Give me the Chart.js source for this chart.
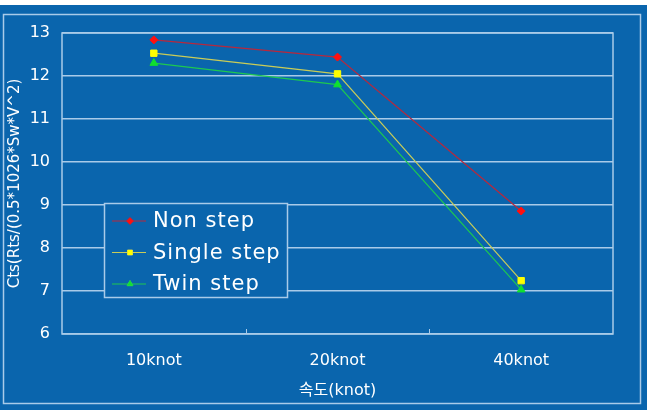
<!DOCTYPE html>
<html lang="ko">
<head>
    <meta charset="UTF-8">
    <title>Cts vs speed</title>
    <script src="https://cdn.jsdelivr.net/npm/chart.js"></script>
    <style>
        body { margin: 0; background: #ffffff; }
        canvas { display: block; }
    </style>
</head>
<body>
    <canvas id="ctsChart" width="653" height="417"></canvas>

    <script>
        // data
        const speeds = ["10knot", "20knot", "40knot"];
        const nonStep = [12.84, 12.44, 8.86];
        const singleStep = [12.53, 12.05, 7.24];
        const twinStep = [12.30, 11.80, 7.03];

        const BLUE = "#0a65ad";
        const PALE = "#a9cbe9";
        const FONT = "'DejaVu Sans', 'Noto Sans CJK KR', sans-serif";

        // blue frame behind the whole chart
        const framePlugin = {
            id: "frame",
            beforeDraw(chart) {
                const ctx = chart.ctx;
                ctx.save();
                ctx.fillStyle = "#ffffff";
                ctx.fillRect(0, 0, chart.width, chart.height);
                ctx.fillStyle = BLUE;
                ctx.fillRect(0, 5, 647, 405);
                ctx.strokeStyle = PALE;
                ctx.lineWidth = 1.5;
                ctx.strokeRect(3.5, 14.5, 637, 389);
                ctx.restore();
            },
            beforeDatasetsDraw(chart) {
                const ctx = chart.ctx;
                const a = chart.chartArea;
                const x = chart.scales.x;
                ctx.save();
                ctx.strokeStyle = PALE;
                ctx.lineWidth = 1.5;
                ctx.strokeRect(a.left, a.top, a.right - a.left, a.bottom - a.top);
                // small ticks between categories
                ctx.lineWidth = 1;
                for (let i = 0; i < speeds.length - 1; i++) {
                    const px = Math.round((x.getPixelForValue(i) + x.getPixelForValue(i + 1)) / 2) + 0.5;
                    ctx.beginPath();
                    ctx.moveTo(px, a.bottom);
                    ctx.lineTo(px, a.bottom - 5);
                    ctx.stroke();
                }
                ctx.restore();
            }
        };

        // legend box drawn inside the plot
        const boxLegend = {
            id: "boxLegend",
            afterDatasetsDraw(chart) {
                const ctx = chart.ctx;
                const a = chart.chartArea;
                const left = a.left + 42, top = a.top + 170;
                const w = 183, h = 94;
                ctx.save();
                ctx.fillStyle = BLUE;
                ctx.fillRect(left, top, w, h);
                ctx.strokeStyle = PALE;
                ctx.lineWidth = 1.5;
                ctx.strokeRect(left + 0.5, top + 0.5, w, h);
                ctx.font = "21px " + FONT;
                ctx.letterSpacing = "1px";
                ctx.textBaseline = "middle";
                chart.data.datasets.forEach((ds, i) => {
                    const y = top + 18 + i * 31.5;
                    ctx.strokeStyle = ds.borderColor;
                    ctx.lineWidth = 1;
                    ctx.beginPath();
                    ctx.moveTo(left + 8, y);
                    ctx.lineTo(left + 42, y);
                    ctx.stroke();
                    Chart.helpers.drawPoint(ctx, {
                        pointStyle: ds.pointStyle,
                        radius: 3.5,
                        borderWidth: 1
                    }, left + 26, y);
                    ctx.fillStyle = ds.pointBackgroundColor;
                    ctx.strokeStyle = ds.pointBorderColor;
                    ctx.fill();
                    ctx.fillStyle = "#ffffff";
                    ctx.fillText(ds.label, left + 49, y + 1);
                });
                ctx.restore();
            }
        };

        function series(label, values, line, mark, style, r) {
            return {
                label,
                data: values,
                borderColor: line,
                borderWidth: 1.2,
                pointStyle: style,
                pointRadius: r,
                pointBackgroundColor: mark,
                pointBorderColor: mark,
                pointBorderWidth: 1,
                tension: 0
            };
        }

        new Chart(document.getElementById("ctsChart"), {
            type: "line",
            data: {
                labels: speeds,
                datasets: [
                    series("Non step", nonStep, "#b8283c", "#ff1010", "rectRot", 4),
                    series("Single step", singleStep, "#c8cc58", "#ffff00", "rect", 4.5),
                    series("Twin step", twinStep, "#1ec850", "#10e030", "triangle", 4.5)
                ]
            },
            options: {
                responsive: false,
                animation: false,
                layout: { padding: { left: 0, top: 33, right: 40, bottom: 0 } },
                plugins: {
                    legend: { display: false },
                    tooltip: { enabled: false }
                },
                scales: {
                    x: {
                        offset: true,
                        afterFit: s => { s.height = 83; },
                        grid: { display: false },
                        border: { display: false },
                        ticks: {
                            color: "#ffffff",
                            padding: 9,
                            font: { family: FONT, size: 16 }
                        },
                        title: {
                            display: true,
                            text: "속도(knot)",
                            color: "#ffffff",
                            padding: { top: 0, bottom: 17 },
                            font: { family: FONT, size: 16 }
                        }
                    },
                    y: {
                        min: 6,
                        max: 13,
                        afterFit: s => { s.width = 62; },
                        grid: { color: PALE, lineWidth: 1.5, drawTicks: false },
                        border: { display: false },
                        ticks: {
                            stepSize: 1,
                            color: "#ffffff",
                            padding: 12,
                            font: { family: FONT, size: 16 }
                        },
                        title: {
                            display: true,
                            text: "Cts(Rts/(0.5*1026*Sw*V^2)",
                            color: "#ffffff",
                            padding: { top: 6, bottom: 0 },
                            font: { family: FONT, size: 15 }
                        }
                    }
                }
            },
            plugins: [framePlugin, boxLegend]
        });
    </script>
</body>
</html>
